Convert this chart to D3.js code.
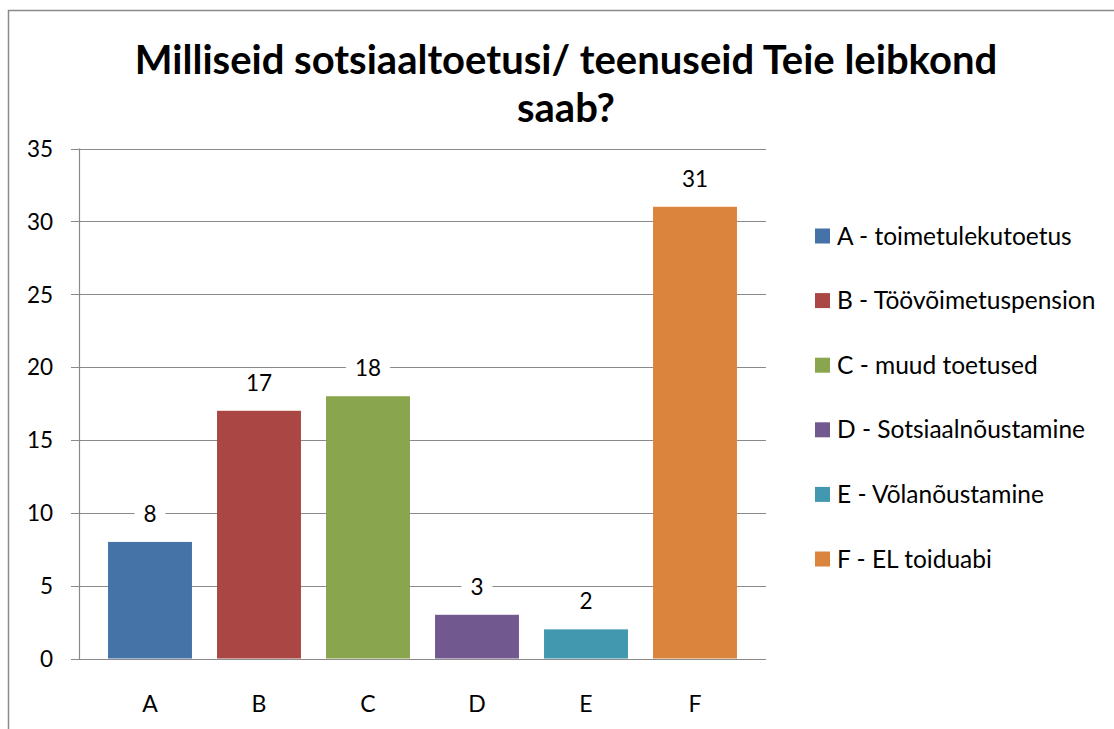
<!DOCTYPE html>
<html><head><meta charset="utf-8">
<script src="https://cdn.jsdelivr.net/npm/d3@7"></script>
<style>html,body{margin:0;padding:0;background:#fff;}svg{display:block;}</style>
</head><body>
<svg id="c" width="1114" height="729"></svg>
<script>
const categories = ["A","B","C","D","E","F"];
const values = [8,17,18,3,2,31];
const legendLabels = ["A - toimetulekutoetus","B - Töövõimetuspension","C - muud toetused","D - Sotsiaalnõustamine","E - Võlanõustamine","F - EL toiduabi"];
const colors = ["#4572A7","#AA4643","#89A54E","#71588F","#4198AF","#DB843D"];
const yTicks = [0,5,10,15,20,25,30,35];
const titleLines = ["Milliseid sotsiaaltoetusi/ teenuseid Teie leibkond","saab?"];

const FONT = "Lato, 'Open Sans', sans-serif";
const svg = d3.select("#c");

// outer frame
svg.append("path").attr("d","M8.5,729 L8.5,10.5 L1114,10.5").attr("fill","none").attr("stroke","#8a8a8a").attr("stroke-width",1.5);

const x = d3.scaleBand().domain(categories).range([95.5,749.5]).paddingInner(0.23).paddingOuter(0.115);
const y = d3.scaleLinear().domain([0,35]).range([658.5,148.5]);

// gridlines
const gridX0 = 71, gridX1 = 766, axisX = 79.5;
svg.append("g").selectAll("line").data(yTicks).join("line")
  .attr("x1",gridX0).attr("x2",gridX1)
  .attr("y1",d=>Math.round(y(d))+0.5).attr("y2",d=>Math.round(y(d))+0.5)
  .attr("stroke","#8a8a8a").attr("stroke-width",1.2);
svg.append("line").attr("x1",axisX).attr("x2",axisX).attr("y1",y(35)).attr("y2",y(0)+0.5)
  .attr("stroke","#8a8a8a").attr("stroke-width",1.2);

// y axis labels
const yAxis = d3.axisLeft(y).tickValues(yTicks).tickSize(0).tickPadding(0);
const yg = svg.append("g").attr("transform","translate(53,0)").call(yAxis);
yg.select(".domain").remove();
yg.selectAll("text").attr("font-family",FONT).attr("font-size",22.5).attr("fill","#000").attr("dy","0.35em");

// x axis labels
const xAxis = d3.axisBottom(x).tickSize(0).tickPadding(0);
const xg = svg.append("g").attr("transform","translate(0,704)").call(xAxis);
xg.select(".domain").remove();
xg.selectAll("text").attr("font-family",FONT).attr("font-size",23).attr("fill","#000").attr("dy","0.35em");

// bars
svg.append("g").selectAll("rect").data(values).join("rect")
  .attr("x",(d,i)=>x(categories[i])).attr("width",x.bandwidth())
  .attr("y",d=>y(d)).attr("height",d=>y(0)-y(d))
  .attr("fill",(d,i)=>colors[i]);

// data labels with white background
const lg = svg.append("g").selectAll("g").data(values).join("g")
  .attr("transform",(d,i)=>`translate(${x(categories[i])+x.bandwidth()/2},${y(d)-28})`);
lg.append("rect").attr("x",-15).attr("y",-13).attr("width",30).attr("height",26).attr("fill","#fff");
lg.append("text").text(d=>d).attr("text-anchor","middle").attr("dy","0.35em")
  .attr("font-family",FONT).attr("font-size",22.5).attr("fill","#000");
lg.each(function(d){
  const t = d3.select(this).select("text").node().getComputedTextLength();
  d3.select(this).select("rect").attr("x",-t/2-9).attr("width",t+18);
});

// legend
const leg = svg.append("g").selectAll("g").data(legendLabels).join("g")
  .attr("transform",(d,i)=>`translate(815,${236+i*64.6})`);
leg.append("rect").attr("x",0).attr("y",-7.5).attr("width",15).attr("height",15).attr("fill",(d,i)=>colors[i]);
leg.append("text").text(d=>d).attr("x",22).attr("dy","0.35em")
  .attr("font-family",FONT).attr("font-size",24.5).attr("fill","#000");

// title
svg.append("g").selectAll("text").data(titleLines).join("text")
  .text(d=>d).attr("x",566).attr("y",(d,i)=>74+i*48)
  .attr("text-anchor","middle").attr("font-family",FONT).attr("font-weight","bold")
  .attr("font-size",40).attr("fill","#000");
</script>
</body></html>
